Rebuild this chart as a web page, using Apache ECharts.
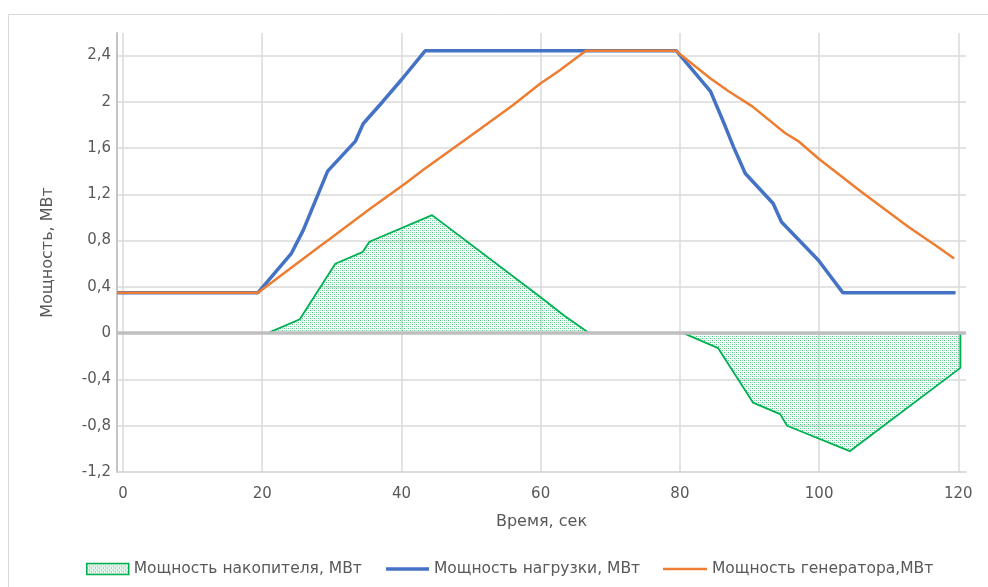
<!DOCTYPE html>
<html>
<head>
<meta charset="utf-8">
<script src="https://cdn.jsdelivr.net/npm/echarts@6/dist/echarts.min.js"></script>
<style>
html,body{margin:0;padding:0;background:#fff;}
#chart{width:988px;height:587px;}
</style>
</head>
<body>
<div id="chart"></div>
<script>
// ---- data ----
var xTicks = [0, 20, 40, 60, 80, 100, 120];
var yTicks = [-1.2, -0.8, -0.4, 0, 0.4, 0.8, 1.2, 1.6, 2, 2.4];

var storName = 'Мощность накопителя, МВт';
var loadName = 'Мощность нагрузки, МВт';
var genName  = 'Мощность генератора,МВт';

var storT = [20.8, 25.4, 30.5, 34.4, 35.4, 44.4, 60.0, 63.4, 67.0, 80.5, 85.5, 90.5, 94.4, 95.4, 104.4, 120.3, 120.3];
var storV = [0, 0.12, 0.60, 0.70, 0.79, 1.02, 0.31, 0.15, 0, 0, -0.13, -0.60, -0.70, -0.80, -1.02, -0.30, 0];

var loadT = [-0.8, 19.4, 24.2, 25.9, 29.4, 33.4, 34.5, 37.3, 40.0, 43.4, 79.5, 84.4, 86.5, 87.7, 89.4, 93.4, 94.6, 99.9, 103.4, 119.6];
var loadV = [0.35, 0.35, 0.69, 0.89, 1.40, 1.66, 1.81, 2.00, 2.19, 2.44, 2.44, 2.09, 1.79, 1.61, 1.38, 1.12, 0.96, 0.63, 0.35, 0.35];

var genT = [-0.8, 19.4, 27.8, 29.6, 35.4, 40.7, 43.1, 51.2, 56.0, 60.0, 61.5, 62.7, 66.5, 79.4, 84.4, 87.0, 90.4, 95.1, 97.0, 99.9, 106.1, 112.8, 116.7, 119.4];
var genV = [0.35, 0.35, 0.73, 0.81, 1.07, 1.30, 1.41, 1.76, 1.97, 2.16, 2.22, 2.27, 2.44, 2.44, 2.20, 2.09, 1.96, 1.73, 1.66, 1.51, 1.22, 0.92, 0.76, 0.645];

function zip(a, b) { return a.map(function (v, i) { return [v, b[i]]; }); }

// dotted pattern
var pc = document.createElement('canvas');
pc.width = 4; pc.height = 4;
var g = pc.getContext('2d');
g.fillStyle = 'rgba(0,176,80,1)';
g.fillRect(0, 0, 1, 1); g.fillRect(2, 2, 1, 1);
g.fillStyle = 'rgba(0,176,80,0.45)';
g.fillRect(2, 0, 1, 1); g.fillRect(0, 2, 1, 1);
g.fillStyle = 'rgba(0,176,80,0.12)';
g.fillRect(1, 1, 1, 1); g.fillRect(3, 3, 1, 1);
var pattern = { image: pc, repeat: 'repeat' };

var FONT = 'DejaVu Sans';
var TXT = '#595959';

function fmtX(v) {
  for (var i = 0; i < xTicks.length; i++) if (Math.abs(xTicks[i] - v) < 1e-6) return String(xTicks[i]);
  return '';
}
function fmtY(v) {
  for (var i = 0; i < yTicks.length; i++) if (Math.abs(yTicks[i] - v) < 1e-6) return String(yTicks[i]).replace('.', ',');
  return '';
}

var chart = echarts.init(document.getElementById('chart'));
var legendText = { fontFamily: FONT, fontSize: 15.5, color: TXT };
chart.setOption({
  animation: false,
  graphic: [{
    type: 'rect', silent: true, z: -10,
    shape: { x: 8.5, y: 14.5, width: 1000, height: 600 },
    style: { fill: 'none', stroke: '#d9d9d9', lineWidth: 1 }
  }],
  grid: { left: 117, right: 22, top: 33, bottom: 115, containLabel: false },
  legend: [
    { left: 86, top: 561, padding: 0, itemWidth: 42, itemHeight: 11, selectedMode: false, textStyle: legendText,
      data: [{ name: storName, icon: 'rect', itemStyle: { color: pattern, borderColor: '#00b050', borderWidth: 1.5 } }] },
    { left: 386, top: 561, padding: 0, itemWidth: 43, itemHeight: 3.5, selectedMode: false, textStyle: legendText,
      data: [{ name: loadName, icon: 'rect', itemStyle: { color: '#4472c4', borderWidth: 0 } }] },
    { left: 663, top: 561, padding: 0, itemWidth: 44, itemHeight: 2.5, selectedMode: false, textStyle: legendText,
      data: [{ name: genName, icon: 'rect', itemStyle: { color: '#ed7d31', borderWidth: 0 } }] }
  ],
  xAxis: {
    type: 'value', min: -0.86, max: 121.1, splitNumber: 6,
    name: 'Время, сек', nameLocation: 'middle', nameGap: 42,
    nameTextStyle: { fontFamily: FONT, fontSize: 16, color: TXT },
    axisLine: { show: true, onZero: false, lineStyle: { color: '#d0d0d0', width: 1.5 } },
    axisTick: { show: false },
    axisLabel: { formatter: fmtX, fontFamily: FONT, fontSize: 15, color: TXT, margin: 15 },
    splitLine: { show: true, showMinLine: false, showMaxLine: false, lineStyle: { color: '#dadada', width: 1.5 } }
  },
  yAxis: {
    type: 'value', min: -1.2, max: 2.594, interval: 0.4,
    name: 'Мощность, МВт', nameLocation: 'middle', nameGap: 61,
    nameTextStyle: { fontFamily: FONT, fontSize: 16, color: TXT },
    axisLine: { show: true, onZero: false, lineStyle: { color: '#c4c4c4', width: 2 } },
    axisTick: { show: false },
    axisLabel: { formatter: fmtY, fontFamily: FONT, fontSize: 15, color: TXT, margin: 6 },
    splitLine: { show: true, showMinLine: false, showMaxLine: false, lineStyle: { color: '#dadada', width: 1.5 } }
  },
  series: [
    {
      name: storName, type: 'line', data: zip(storT, storV), symbol: 'none', z: 2,
      lineStyle: { color: '#00b050', width: 1.8 },
      itemStyle: { color: '#00b050' },
      areaStyle: { color: pattern, origin: 0 }
    },
    {
      name: 'zero', type: 'line', data: [], z: 3, silent: true,
      markLine: {
        silent: true, symbol: ['none', 'none'], label: { show: false },
        lineStyle: { color: '#bfbfbf', width: 3.5, type: 'solid' },
        emphasis: { disabled: true },
        data: [{ yAxis: 0 }]
      }
    },
    {
      name: loadName, type: 'line', data: zip(loadT, loadV), symbol: 'none', z: 4,
      lineStyle: { color: '#4472c4', width: 3.5 }, itemStyle: { color: '#4472c4' }
    },
    {
      name: genName, type: 'line', data: zip(genT, genV), symbol: 'none', z: 5,
      lineStyle: { color: '#ed7d31', width: 2.5 }, itemStyle: { color: '#ed7d31' }
    }
  ]
});
</script>
</body>
</html>
